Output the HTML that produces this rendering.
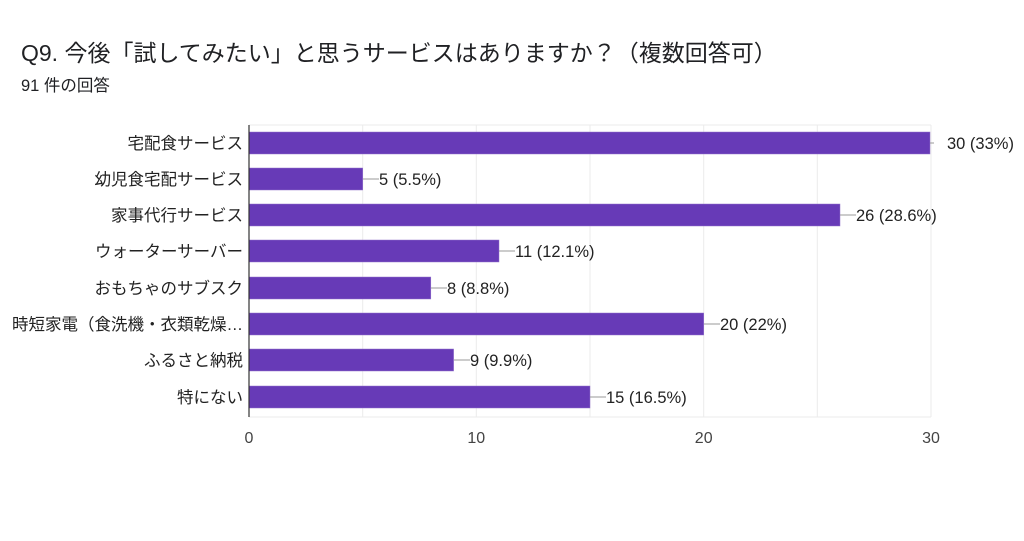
<!DOCTYPE html>
<html><head><meta charset="utf-8"><style>
body{margin:0;background:#fff;width:1024px;height:536px;overflow:hidden;font-family:"Liberation Sans","Noto Sans CJK JP",sans-serif;}
</style></head><body>
<svg width="1024" height="536" xmlns="http://www.w3.org/2000/svg" font-family="Liberation Sans, Noto Sans CJK JP, sans-serif">
<text x="21" y="61" font-size="23" fill="#202124">Q9. 今後「試してみたい」と思うサービスはありますか？（複数回答可）</text>
<text x="21" y="91" font-size="16.5" fill="#202124">91 件の回答</text>
<g stroke="#ebebeb" stroke-width="1">
<line x1="362.7" y1="125" x2="362.7" y2="417"/><line x1="476.3" y1="125" x2="476.3" y2="417"/>
<line x1="590" y1="125" x2="590" y2="417"/><line x1="703.7" y1="125" x2="703.7" y2="417"/>
<line x1="817.3" y1="125" x2="817.3" y2="417"/><line x1="931" y1="125" x2="931" y2="417"/>
<line x1="249" y1="125" x2="931" y2="125"/><line x1="249" y1="417" x2="931" y2="417"/>
</g>
<g fill="#673ab7" stroke="#9575cd" stroke-width="0.5">
<rect x="249" y="132" width="681" height="22"/>
<rect x="249" y="168" width="113.7" height="22"/>
<rect x="249" y="204" width="591" height="22"/>
<rect x="249" y="240" width="250" height="22"/>
<rect x="249" y="277" width="181.8" height="22"/>
<rect x="249" y="313" width="454.7" height="22"/>
<rect x="249" y="349" width="204.6" height="22"/>
<rect x="249" y="386" width="341" height="22"/>
</g>
<line x1="249" y1="125" x2="249" y2="417" stroke="#333" stroke-width="1.2"/>
<g stroke="#999" stroke-width="1">
<line x1="930" y1="143" x2="934" y2="143"/>
<line x1="363" y1="179" x2="379" y2="179"/>
<line x1="840" y1="215" x2="856" y2="215"/>
<line x1="499" y1="251" x2="515" y2="251"/>
<line x1="431" y1="288" x2="447" y2="288"/>
<line x1="704" y1="324" x2="720" y2="324"/>
<line x1="454" y1="360" x2="470" y2="360"/>
<line x1="590" y1="397" x2="606" y2="397"/>
</g>
<g font-size="16.5" fill="#222">
<text x="947" y="149">30 (33%)</text>
<text x="379" y="185">5 (5.5%)</text>
<text x="856" y="221">26 (28.6%)</text>
<text x="515" y="257">11 (12.1%)</text>
<text x="447" y="294">8 (8.8%)</text>
<text x="720" y="330">20 (22%)</text>
<text x="470" y="366">9 (9.9%)</text>
<text x="606" y="403">15 (16.5%)</text>
</g>
<g font-size="16.5" fill="#222" text-anchor="end">
<text x="243" y="149">宅配食サービス</text>
<text x="243" y="185">幼児食宅配サービス</text>
<text x="243" y="221">家事代行サービス</text>
<text x="243" y="257">ウォーターサーバー</text>
<text x="243" y="294">おもちゃのサブスク</text>
<text x="243" y="330">時短家電（食洗機・衣類乾燥…</text>
<text x="243" y="366">ふるさと納税</text>
<text x="243" y="403">特にない</text>
</g>
<g font-size="16" fill="#444" text-anchor="middle">
<text x="249" y="443">0</text><text x="476.3" y="443">10</text>
<text x="703.7" y="443">20</text><text x="931" y="443">30</text>
</g>
</svg>
</body></html>
